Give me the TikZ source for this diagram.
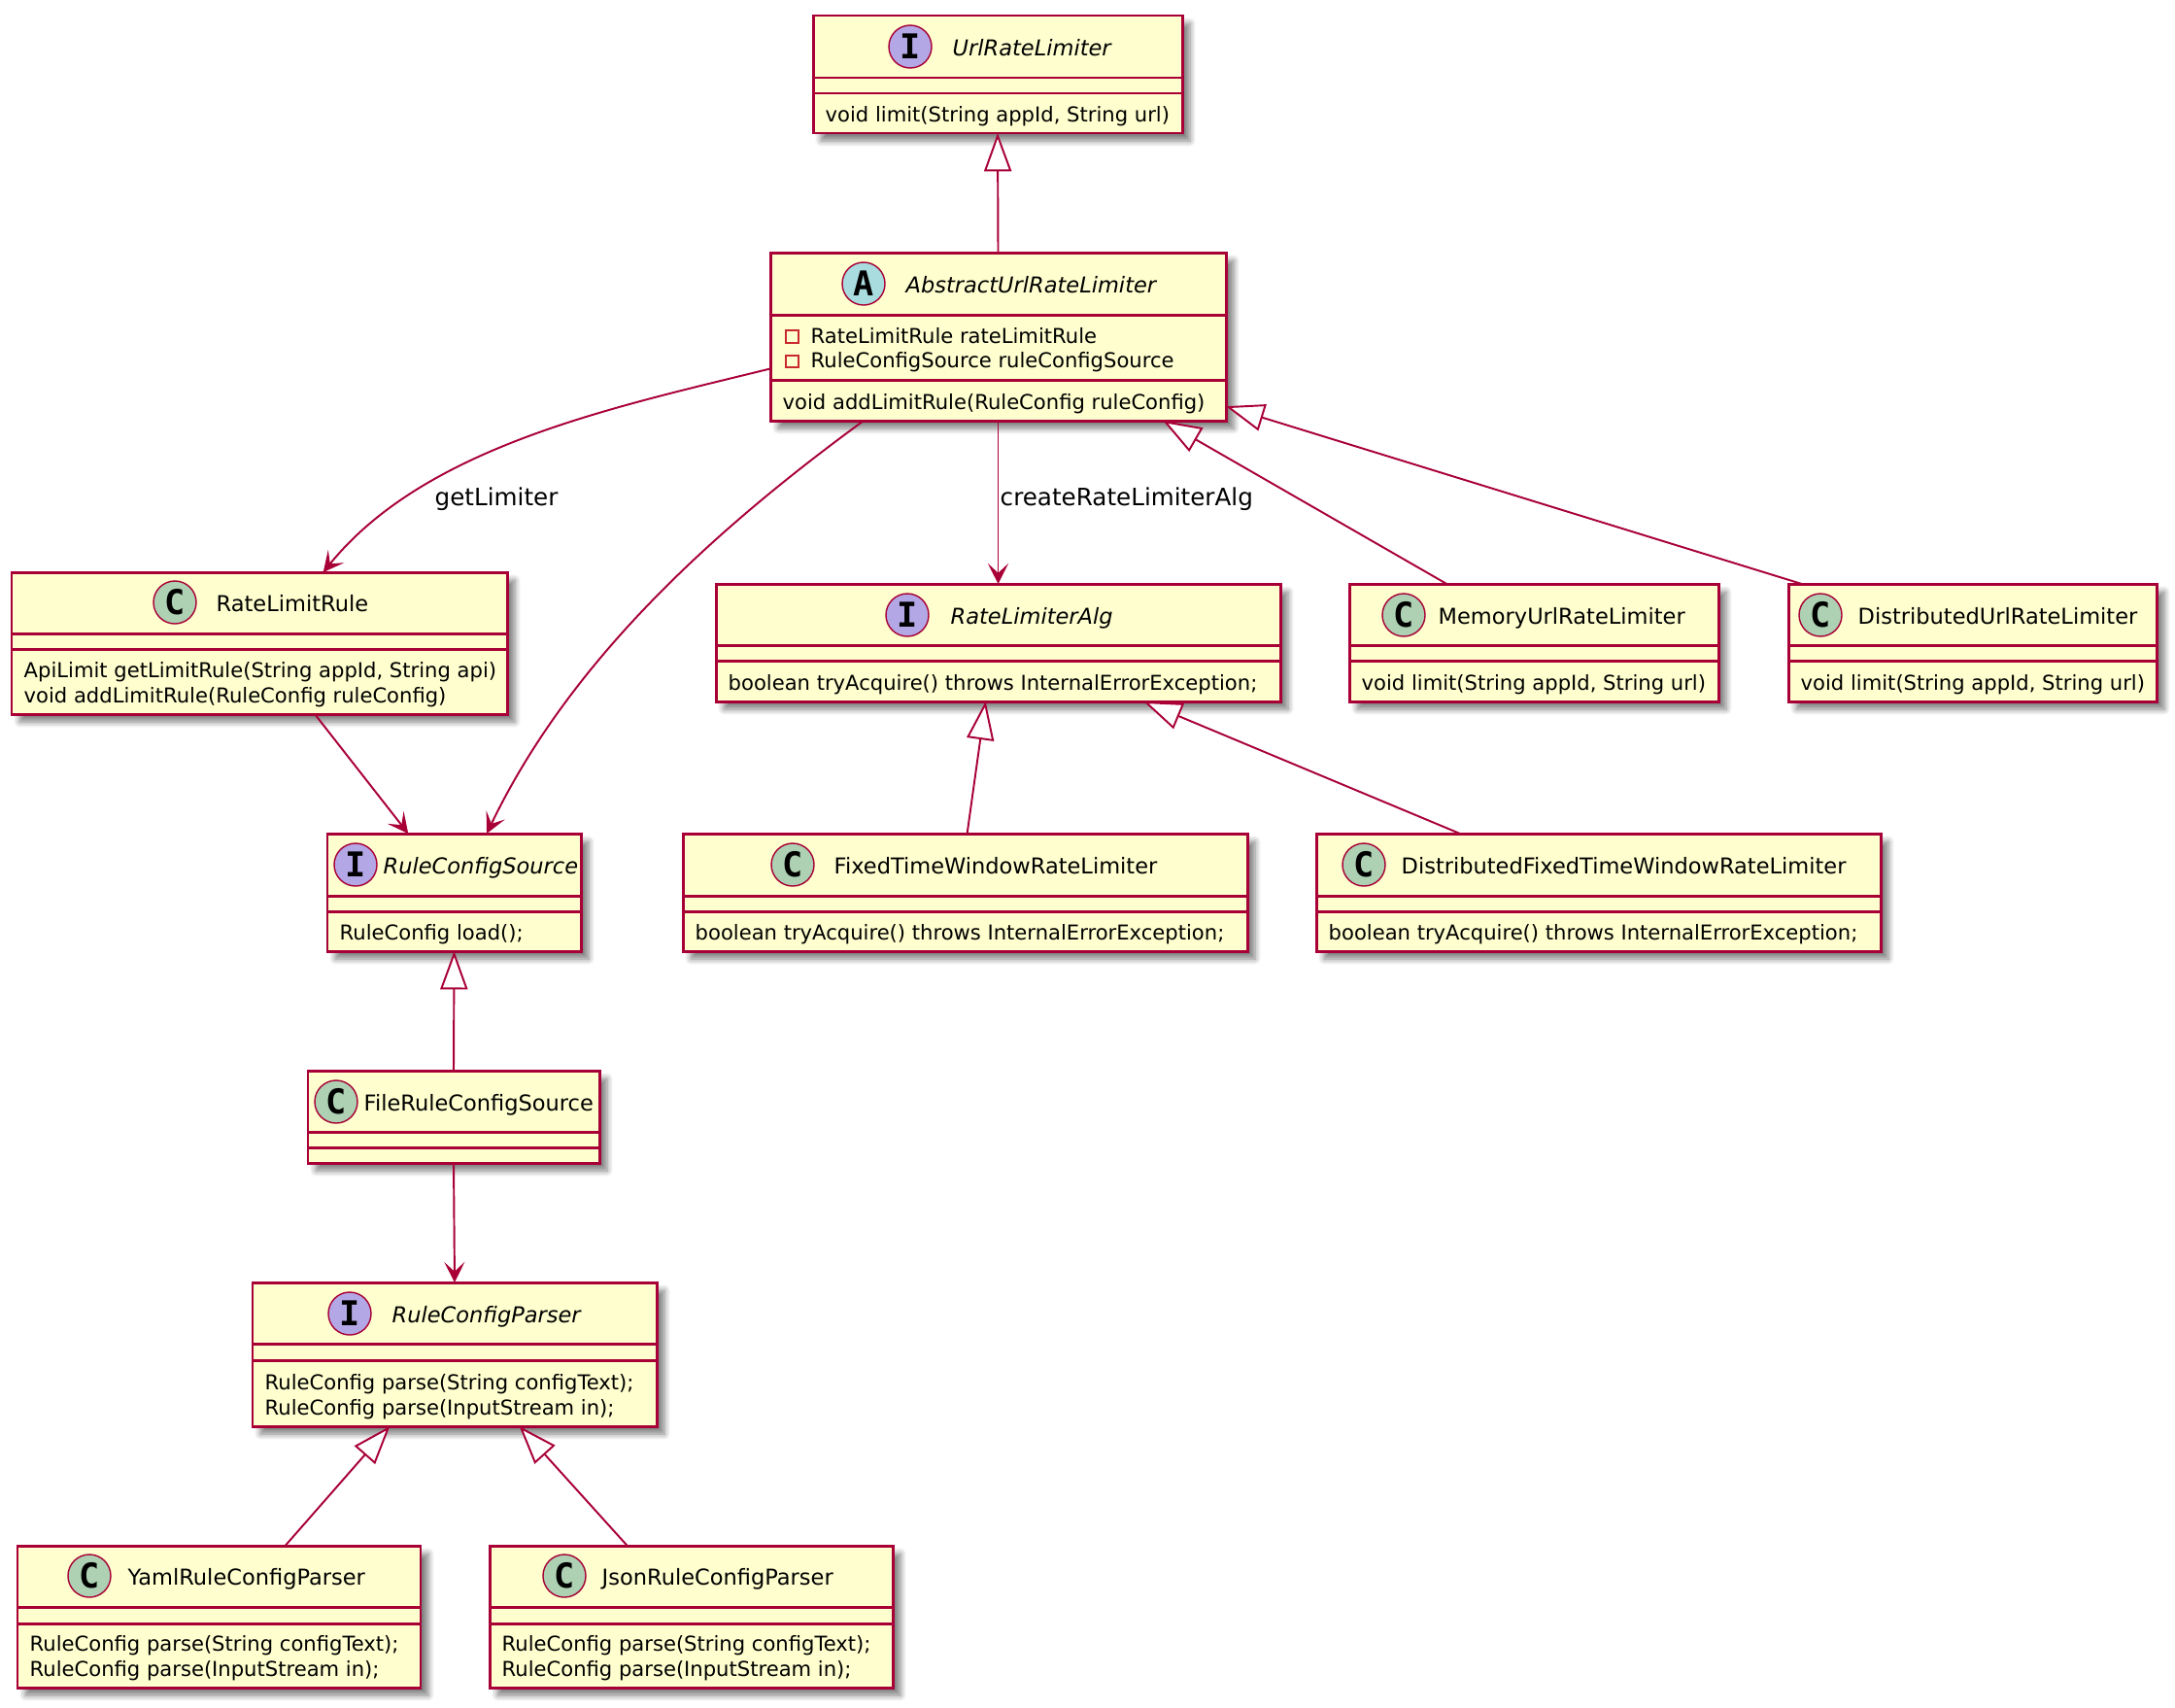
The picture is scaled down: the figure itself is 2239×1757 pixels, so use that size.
\documentclass[tikz,border=0pt]{standalone}
\usepackage{fontspec}
\setmainfont{DejaVu Sans}
\setmonofont{DejaVu Sans Mono}
\usetikzlibrary{arrows.meta,shadows.blur}
\definecolor{umlred}{HTML}{A80036}
\definecolor{umlfill}{HTML}{FEFECE}
\definecolor{spotiface}{HTML}{B4A7E5}
\definecolor{spotabs}{HTML}{A9DCDF}
\definecolor{spotclass}{HTML}{ADD1B2}
\definecolor{privred}{HTML}{C82930}
\tikzset{
  classnode/.style={rectangle,draw=umlred,fill=umlfill,line width=0.85pt,inner sep=0pt,outer sep=0pt,
    blur shadow={shadow xshift=0.08cm,shadow yshift=-0.08cm,shadow blur radius=0.06cm,shadow blur steps=6,shadow opacity=50}},
  spotnode/.style={circle,draw=umlred,line width=0.4pt,minimum size=0.44cm,inner sep=0pt,font=\ttfamily\bfseries\fontsize{10}{10}\selectfont},
  titletext/.style={anchor=base west,inner sep=0pt,font=\fontsize{6.4}{7}\selectfont},
  membertext/.style={anchor=base west,inner sep=0pt,font=\fontsize{6}{7}\selectfont},
  edgelabel/.style={anchor=base west,inner sep=0pt,font=\fontsize{7}{7}\selectfont},
  privmark/.style={rectangle,draw=privred,line width=0.45pt,minimum size=0.125cm,inner sep=0pt},
  hollowedge/.style={draw=umlred,line width=0.55pt,{Triangle[length=11.2pt,width=8pt,fill=white]}-},
  veeedge/.style={draw=umlred,line width=0.55pt,-{Stealth[length=6pt,width=6pt,inset=2.8pt]}}
}
\newcommand{\classbox}[7]{
  \node[classnode,minimum width={(#4-#2)*0.01cm},minimum height={(#5-#3)*0.01cm}] (#1) at ({(#2+#4)/2},{(#3+#5)/2}) {};
  \draw[umlred,line width=0.85pt] (#2,#6) -- (#4,#6);
  \draw[umlred,line width=0.85pt] (#2,#7) -- (#4,#7);
}
\newcommand{\classhead}[7]{
  \node[spotnode,fill=#4] (#1spot) at (#2,#3) {#5};
  \node[titletext] (#1title) at (#6,#3+9) {#7};
}
\newcommand{\ifacehead}[7]{
  \node[spotnode,fill=#4] (#1spot) at (#2,#3) {#5};
  \node[titletext,font=\fontsize{6.4}{7}\selectfont\itshape] (#1title) at (#6,#3+9) {#7};
}
\newcommand{\memberline}[4]{\node[membertext] (#1) at (#2,#3) {#4};}
\begin{document}
\begin{tikzpicture}[x=0.01cm,y=-0.01cm]
  \useasboundingbox (0,0) rectangle (2239,1757);

  \classbox{urlLimiter}{837}{16}{1217}{137}{80}{96}
  \classbox{absLimiter}{793}{260}{1262}{433}{324}{391}
  \classbox{limitRule}{12}{589}{522}{735}{652}{668}
  \classbox{limiterAlg}{737}{601}{1318}{722}{664}{680}
  \classbox{memLimiter}{1389}{601}{1769}{722}{664}{680}
  \classbox{distLimiter}{1841}{601}{2220}{722}{664}{680}
  \classbox{configSource}{337}{858}{598}{979}{922}{938}
  \classbox{fixedWindow}{703}{858}{1284}{979}{922}{938}
  \classbox{distWindow}{1355}{858}{1936}{979}{922}{938}
  \classbox{fileSource}{317}{1102}{617}{1197}{1165}{1181}
  \classbox{configParser}{260}{1320}{676}{1468}{1383}{1400}
  \classbox{yamlParser}{18}{1591}{433}{1737}{1654}{1671}
  \classbox{jsonParser}{504}{1591}{919}{1737}{1654}{1671}

  \ifacehead{urlLimiter}{937}{48}{spotiface}{I}{980}{UrlRateLimiter}
  \ifacehead{absLimiter}{889}{292}{spotabs}{A}{932}{AbstractUrlRateLimiter}
  \classhead{limitRule}{180}{620}{spotclass}{C}{222}{RateLimitRule}
  \ifacehead{limiterAlg}{934}{633}{spotiface}{I}{978}{RateLimiterAlg}
  \classhead{memLimiter}{1445}{633}{spotclass}{C}{1480}{MemoryUrlRateLimiter}
  \classhead{distLimiter}{1874}{633}{spotclass}{C}{1912}{DistributedUrlRateLimiter}
  \ifacehead{configSource}{366}{890}{spotiface}{I}{394}{RuleConfigSource}
  \classhead{fixedWindow}{816}{890}{spotclass}{C}{858}{FixedTimeWindowRateLimiter}
  \classhead{distWindow}{1404}{890}{spotclass}{C}{1442}{DistributedFixedTimeWindowRateLimiter}
  \classhead{fileSource}{346}{1134}{spotclass}{C}{374}{FileRuleConfigSource}
  \ifacehead{configParser}{360}{1352}{spotiface}{I}{403}{RuleConfigParser}
  \classhead{yamlParser}{92}{1622}{spotclass}{C}{131}{YamlRuleConfigParser}
  \classhead{jsonParser}{581}{1622}{spotclass}{C}{619}{JsonRuleConfigParser}

  \memberline{urlLimit}{849}{125}{void limit(String appId, String url)}
  \node[privmark] (markRule) at (815.5,346.5) {};
  \node[privmark] (markSource) at (815.5,372) {};
  \memberline{absRule}{834}{353}{RateLimitRule rateLimitRule}
  \memberline{absSource}{834}{378}{RuleConfigSource ruleConfigSource}
  \memberline{absAdd}{805}{421}{void addLimitRule(RuleConfig ruleConfig)}
  \memberline{ruleGet}{24}{697}{ApiLimit getLimitRule(String appId, String api)}
  \memberline{ruleAdd}{24}{723}{void addLimitRule(RuleConfig ruleConfig)}
  \memberline{algTry}{749}{710}{boolean tryAcquire() throws InternalErrorException;}
  \memberline{memLimit}{1401}{710}{void limit(String appId, String url)}
  \memberline{distLimit}{1853}{710}{void limit(String appId, String url)}
  \memberline{sourceLoad}{349}{967}{RuleConfig load();}
  \memberline{fixedTry}{715}{967}{boolean tryAcquire() throws InternalErrorException;}
  \memberline{windowTry}{1367}{967}{boolean tryAcquire() throws InternalErrorException;}
  \memberline{parserText}{272}{1430}{RuleConfig parse(String configText);}
  \memberline{parserIn}{272}{1456}{RuleConfig parse(InputStream in);}
  \memberline{yamlText}{30}{1699}{RuleConfig parse(String configText);}
  \memberline{yamlIn}{30}{1725}{RuleConfig parse(InputStream in);}
  \memberline{jsonText}{516}{1699}{RuleConfig parse(String configText);}
  \memberline{jsonIn}{516}{1725}{RuleConfig parse(InputStream in);}

  \draw[hollowedge] (urlLimiter.south) -- (absLimiter.north);
  \draw[hollowedge] (absLimiter.-27.03) -- (memLimiter.146.96);
  \draw[hollowedge] (absLimiter.-17.62) -- (distLimiter.161.94);
  \draw[hollowedge] (limiterAlg.-102.58) -- (fixedWindow.88.58);
  \draw[hollowedge] (limiterAlg.-22.86) -- (distWindow.157);
  \draw[hollowedge] (configSource.south) -- (fileSource.north);
  \draw[hollowedge] (configParser.-132.58) -- (yamlParser.47.66);
  \draw[hollowedge] (configParser.-48.27) -- (jsonParser.132.76);

  \draw[veeedge] (absLimiter.188.13) .. controls (633,419) and (438,459) .. (limitRule.48.76);
  \draw[veeedge] (absLimiter.-148.01) .. controls (733,547) and (586,681) .. (configSource.61.02);
  \draw[veeedge] (absLimiter.south) -- (limiterAlg.north);
  \draw[veeedge] (limitRule.-52.02) -- (configSource.128.13);
  \draw[veeedge] (fileSource.south) -- (configParser.north);

  \node[edgelabel] (getLabel) at (447,520) {getLimiter};
  \node[edgelabel] (createLabel) at (1029,520) {createRateLimiterAlg};
\end{tikzpicture}
\end{document}
